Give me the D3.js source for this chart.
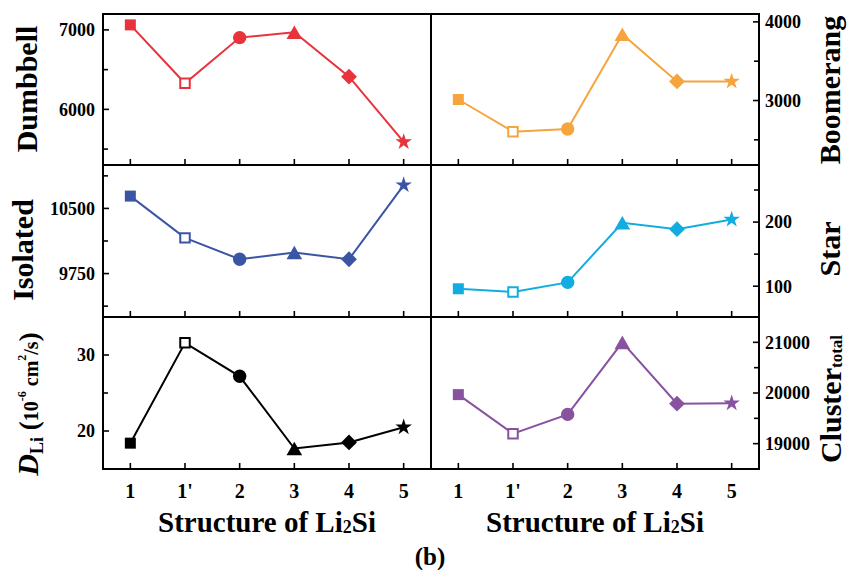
<!DOCTYPE html>
<html>
<head>
<meta charset="utf-8">
<script src="https://cdn.jsdelivr.net/npm/d3@7"></script>
<style>
  body { margin: 0; background: #fff; }
  text { font-family: "Liberation Serif", "Times New Roman", serif; font-weight: bold; fill: #000; }
</style>
</head>
<body>
<div id="chart"></div>
<script>
// Structures on the x axis
const structures = ["1", "1'", "2", "3", "4", "5"];
// Marker used for each structure
const markers = ["square", "openSquare", "circle", "triangle", "diamond", "star"];

// Values
const dumbbell = [7063, 6328, 6903, 6970, 6411, 5591];
const boomerang = [3013, 2604, 2638, 3843, 3243, 3243];
const isolated = [10642, 10161, 9915, 9992, 9915, 10769];
const starValues = [96, 91, 106, 199, 189, 204];
const dLi = [18.4, 31.6, 27.2, 17.7, 18.5, 20.5];
const clusterTotal = [19968, 19198, 19578, 21000, 19790, 19800];

// Tick values per panel
const dumbbellTicks = [6000, 7000];
const dumbbellMinor = [5500, 6500];
const boomerangTicks = [3000, 4000];
const boomerangMinor = [2500, 3500];
const isolatedTicks = [9750, 10500];
const isolatedMinor = [9375, 10125, 10875];
const starTicks = [100, 200];
const starMinor = [150, 250];
const dLiTicks = [20, 30];
const dLiMinor = [25];
const clusterTicks = [19000, 20000, 21000];
const clusterMinor = [19500, 20500];

const panels = [
  { row: 0, col: 0, values: dumbbell, domain: [5300, 7200], ticks: dumbbellTicks, minor: dumbbellMinor, color: "#e8323c", label: "Dumbbell" },
  { row: 0, col: 1, values: boomerang, domain: [2180, 4100], ticks: boomerangTicks, minor: boomerangMinor, color: "#f6a43e", label: "Boomerang" },
  { row: 1, col: 0, values: isolated, domain: [9250, 11000], ticks: isolatedTicks, minor: isolatedMinor, color: "#3b55a5", label: "Isolated" },
  { row: 1, col: 1, values: starValues, domain: [52, 289], ticks: starTicks, minor: starMinor, color: "#12ade0", label: "Star" },
  { row: 2, col: 0, values: dLi, domain: [15, 35], ticks: dLiTicks, minor: dLiMinor, color: "#000000", label: "DLi" },
  { row: 2, col: 1, values: clusterTotal, domain: [18500, 21500], ticks: clusterTicks, minor: clusterMinor, color: "#8852a0", label: "Cluster" },
];

const W = 849, H = 570;
const colX = [103, 431, 759];
const rowY = [14, 165, 317, 469];

const svg = d3.select("#chart").append("svg")
  .attr("width", W)
  .attr("height", H);

// custom symbols, centred on their bounding box
const triangleUp = {
  draw(ctx, size) {
    const w = Math.sqrt(size) * 1.15, h = Math.sqrt(size);
    ctx.moveTo(0, -h / 2);
    ctx.lineTo(w / 2, h / 2);
    ctx.lineTo(-w / 2, h / 2);
    ctx.closePath();
  }
};
const diamond45 = {
  draw(ctx, size) {
    const r = Math.sqrt(size) / 2;
    ctx.moveTo(0, -r);
    ctx.lineTo(r, 0);
    ctx.lineTo(0, r);
    ctx.lineTo(-r, 0);
    ctx.closePath();
  }
};

function markerSymbol(kind) {
  switch (kind) {
    case "square": return d3.symbol().type(d3.symbolSquare).size(121)();
    case "openSquare": return d3.symbol().type(d3.symbolSquare).size(90)();
    case "circle": return d3.symbol().type(d3.symbolCircle).size(140)();
    case "triangle": return d3.symbol().type(triangleUp).size(185)();
    case "diamond": return d3.symbol().type(diamond45).size(250)();
    case "star": return d3.symbol().type(d3.symbolStar).size(85)();
  }
}

panels.forEach((p) => {
  const x0 = colX[p.col], x1 = colX[p.col + 1];
  const y0 = rowY[p.row], y1 = rowY[p.row + 1];

  const x = d3.scalePoint().domain(structures).range([x0, x1]).padding(0.5);
  const y = d3.scaleLinear().domain(p.domain).range([y1, y0]);

  const g = svg.append("g");

  // x ticks (inward)
  g.selectAll(".xtick")
    .data(structures)
    .enter()
    .append("line")
    .attr("x1", (d) => x(d))
    .attr("x2", (d) => x(d))
    .attr("y1", y1)
    .attr("y2", y1 - 6)
    .style("stroke", "#000")
    .style("stroke-width", 1.6);

  // y ticks, inward, on the outer side of the panel
  const axisX = p.col === 0 ? x0 : x1;
  const dir = p.col === 0 ? 1 : -1;
  g.selectAll(".ytick")
    .data(p.ticks)
    .enter()
    .append("line")
    .attr("x1", axisX)
    .attr("x2", axisX + dir * 6)
    .attr("y1", (d) => y(d))
    .attr("y2", (d) => y(d))
    .style("stroke", "#000")
    .style("stroke-width", 1.6);

  g.selectAll(".yminor")
    .data(p.minor)
    .enter()
    .append("line")
    .attr("x1", axisX)
    .attr("x2", axisX + dir * 5)
    .attr("y1", (d) => y(d))
    .attr("y2", (d) => y(d))
    .style("stroke", "#000")
    .style("stroke-width", 1.6);

  g.selectAll(".ylabel")
    .data(p.ticks)
    .enter()
    .append("text")
    .attr("x", p.col === 0 ? x0 - 8 : x1 + 6)
    .attr("y", (d) => y(d))
    .attr("dy", "0.35em")
    .attr("text-anchor", p.col === 0 ? "end" : "start")
    .style("font-size", "18px")
    .text((d) => d);

  // line + markers
  const pts = structures.map((s, i) => ({ s, v: p.values[i], m: markers[i] }));
  g.append("path")
    .datum(pts)
    .attr("d", d3.line().x((d) => x(d.s)).y((d) => y(d.v)))
    .style("fill", "none")
    .style("stroke", p.color)
    .style("stroke-width", 2);

  g.selectAll(".marker")
    .data(pts)
    .enter()
    .append("path")
    .attr("transform", (d) => `translate(${x(d.s)},${y(d.v)})`)
    .attr("d", (d) => markerSymbol(d.m))
    .style("fill", (d) => (d.m === "openSquare" ? "#fff" : p.color))
    .style("stroke", (d) => (d.m === "openSquare" ? p.color : "none"))
    .style("stroke-width", 2);

  // frame
  g.append("rect")
    .attr("x", x0)
    .attr("y", y0)
    .attr("width", x1 - x0)
    .attr("height", y1 - y0)
    .style("fill", "none")
    .style("stroke", "#000")
    .style("stroke-width", 2);

  // x tick labels and title on bottom row
  if (p.row === 2) {
    g.selectAll(".xlabel")
      .data(structures)
      .enter()
      .append("text")
      .attr("x", (d) => x(d))
      .attr("y", 498)
      .attr("text-anchor", "middle")
      .style("font-size", "20px")
      .text((d) => d);

    const title = g.append("text")
      .attr("x", (x0 + x1) / 2)
      .attr("y", 532)
      .attr("text-anchor", "middle")
      .style("font-size", "29px");
    title.append("tspan").text("Structure of Li");
    title.append("tspan").style("font-size", "18px").attr("dy", 1).text("2");
    title.append("tspan").attr("dy", -1).text("Si");
  }
});

// panel titles (rotated)
function sideLabel(xPos, yPos) {
  return svg.append("text")
    .attr("transform", `translate(${xPos},${yPos}) rotate(-90)`)
    .attr("text-anchor", "middle")
    .style("font-size", "30px");
}
sideLabel(37, 89).text("Dumbbell");
sideLabel(33, 250).text("Isolated");
sideLabel(840, 90).text("Boomerang");
sideLabel(840, 249).text("Star");

const cl = sideLabel(841, 399);
cl.append("tspan").text("Cluster");
cl.append("tspan").style("font-size", "17px").attr("dy", 1).text("total");

const dl = sideLabel(38, 404);
dl.append("tspan").style("font-style", "italic").text("D");
dl.append("tspan").style("font-size", "18px").attr("dy", 5).text("Li");
dl.append("tspan").style("font-size", "27px").attr("dy", -5).text(" (");
dl.append("tspan").style("font-size", "20px").text("10");
dl.append("tspan").style("font-size", "12px").attr("dy", -12).text("-6");
dl.append("tspan").style("font-size", "20px").attr("dy", 12).text(" cm");
dl.append("tspan").style("font-size", "12px").attr("dy", -12).text("2");
dl.append("tspan").style("font-size", "20px").attr("dy", 12).text("/s");
dl.append("tspan").style("font-size", "27px").text(")");

svg.append("text")
  .attr("x", 430)
  .attr("y", 565)
  .attr("text-anchor", "middle")
  .style("font-size", "25px")
  .text("(b)");
</script>
</body>
</html>
